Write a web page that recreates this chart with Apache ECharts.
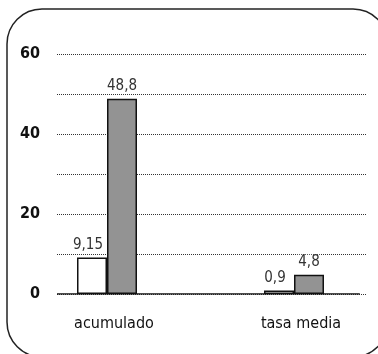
<!DOCTYPE html>
<html>
<head>
<meta charset="utf-8">
<script src="https://cdn.jsdelivr.net/npm/echarts@6/dist/echarts.min.js"></script>
<style>
  html, body { margin: 0; padding: 0; background: #fff; }
  #chart { width: 378px; height: 354px; }
</style>
</head>
<body>
<div id="chart"></div>
<script>
const categories = ['acumulado', 'tasa media'];
const seriesWhite = [9.15, 0.9];
const seriesGray = [48.8, 4.8];
const yTicks = [0, 20, 40, 60];

const FONT = '"Liberation Sans Narrow", "DejaVu Sans Condensed", "Roboto Condensed", sans-serif';
const fmt = v => String(v).replace('.', ',');

const chart = echarts.init(document.getElementById('chart'), null, { renderer: 'canvas' });

function barLabel(dx) {
  return {
    show: true,
    position: 'top',
    distance: 5,
    offset: [dx, 0],
    formatter: p => fmt(p.value),
    fontFamily: FONT,
    fontSize: 15,
    color: '#333',
    backgroundColor: '#fff',
    padding: [0, 1]
  };
}

// rounded frame built from straight sides and corner arcs;
// the right and bottom sides run past the canvas edge
const FR = { x0: 7, y0: 9, x1: 388, y1: 357, r: 35 };
const frameStyle = { stroke: '#222', lineWidth: 1.5, fill: 'none' };
const PI = Math.PI;
const frame = [
  { type: 'line', shape: { x1: FR.x0 + FR.r, y1: FR.y0, x2: FR.x1 - FR.r, y2: FR.y0 } },
  { type: 'line', shape: { x1: FR.x1, y1: FR.y0 + FR.r, x2: FR.x1, y2: FR.y1 - FR.r } },
  { type: 'line', shape: { x1: FR.x0 + FR.r, y1: FR.y1, x2: FR.x1 - FR.r, y2: FR.y1 } },
  { type: 'line', shape: { x1: FR.x0, y1: FR.y0 + FR.r, x2: FR.x0, y2: FR.y1 - FR.r } },
  { type: 'arc', shape: { cx: FR.x0 + FR.r, cy: FR.y0 + FR.r, r: FR.r, startAngle: PI, endAngle: 1.5 * PI } },
  { type: 'arc', shape: { cx: FR.x1 - FR.r, cy: FR.y0 + FR.r, r: FR.r, startAngle: 1.5 * PI, endAngle: 2 * PI } },
  { type: 'arc', shape: { cx: FR.x1 - FR.r, cy: FR.y1 - FR.r, r: FR.r, startAngle: 0, endAngle: 0.5 * PI } },
  { type: 'arc', shape: { cx: FR.x0 + FR.r, cy: FR.y1 - FR.r, r: FR.r, startAngle: 0.5 * PI, endAngle: PI } }
].map(el => Object.assign(el, { style: frameStyle, z: -1, silent: true }));

chart.setOption({
  animation: false,
  graphic: frame,
  grid: [
    { left: 57, right: 12, top: 54, bottom: 60 },
    { left: 13.5, width: 374, top: 54, bottom: 60, outerBoundsMode: 'none' }
  ],
  xAxis: [
    {
      gridIndex: 0, type: 'value', min: 0, max: 1,
      axisLine: { show: false }, axisTick: { show: false },
      axisLabel: { show: false }, splitLine: { show: false }
    },
    {
      gridIndex: 1, type: 'category', data: categories,
      axisLine: { show: false }, axisTick: { show: false },
      axisLabel: {
        fontFamily: FONT, fontSize: 16, color: '#111',
        margin: 22, padding: [0, 0, 0, 14]
      }
    }
  ],
  yAxis: [
    {
      gridIndex: 0, type: 'value', min: 0, max: 60, interval: 10,
      axisLine: { show: false }, axisTick: { show: false },
      axisLabel: {
        margin: 17, fontFamily: FONT, fontSize: 16, fontWeight: 'bold', color: '#111',
        formatter: v => (yTicks.includes(v) ? String(v) : '')
      },
      splitLine: { show: true, lineStyle: { type: [1, 1], color: '#333', width: 1 } }
    },
    {
      gridIndex: 1, type: 'value', min: 0, max: 60, interval: 10,
      axisLine: { show: false }, axisTick: { show: false },
      axisLabel: { show: false }, splitLine: { show: false }
    }
  ],
  series: [
    {
      type: 'line', xAxisIndex: 0, yAxisIndex: 0,
      data: [[0, 0], [0.98, 0]], symbol: 'none',
      lineStyle: { color: '#111', width: 1.5 }, silent: true, z: 1
    },
    {
      type: 'bar', xAxisIndex: 1, yAxisIndex: 1, data: seriesWhite,
      barWidth: 30, barGap: '0%',
      itemStyle: { color: '#fff', borderColor: '#111', borderWidth: 1.5 },
      label: barLabel(-4), z: 3
    },
    {
      type: 'bar', xAxisIndex: 1, yAxisIndex: 1, data: seriesGray,
      barWidth: 30, barGap: '0%',
      itemStyle: { color: '#939393', borderColor: '#111', borderWidth: 1.5 },
      label: barLabel(0), z: 3
    }
  ]
});
</script>
</body>
</html>
